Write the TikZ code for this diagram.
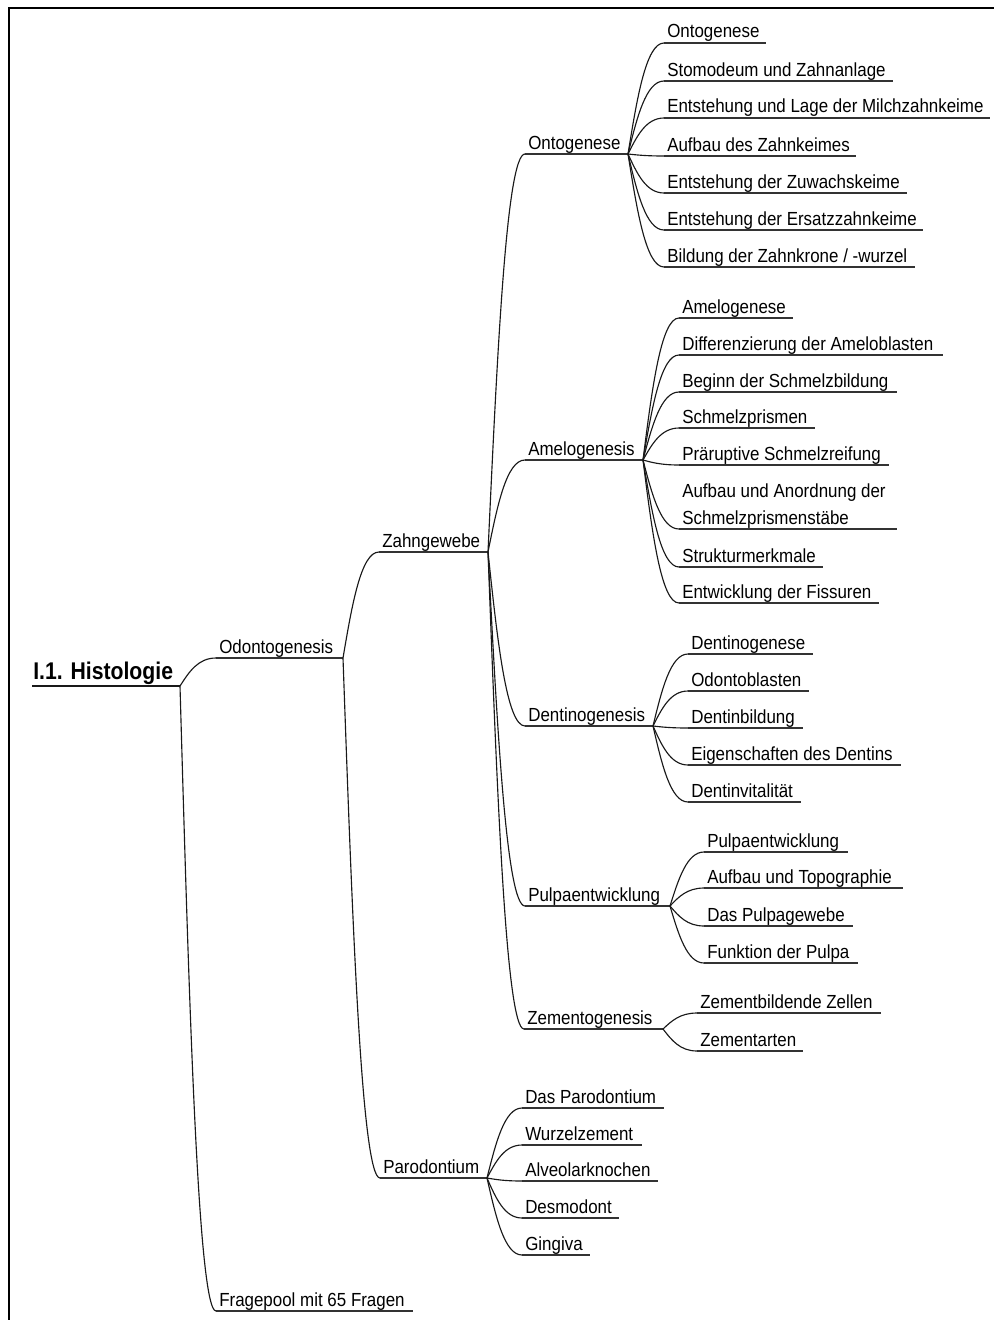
\documentclass[tikz,border=0pt]{standalone}
\usepackage{fontspec}
\setmainfont{Liberation Sans}
\usetikzlibrary{calc}

\tikzset{
  topic/.style={anchor=base west, inner sep=0pt, text=black,
    font=\fontsize{12.7}{18}\selectfont},
  roottopic/.style={anchor=base west, inner sep=0pt, text=black,
    font=\fontsize{15.9}{19}\selectfont\bfseries},
  uline/.style={line width=1.2pt, draw=black!80},
  conn/.style={line width=0.85pt, draw=black!90},
  frame/.style={line width=1.3pt, draw=black}
}

% \topic[style]{name}{text x}{underline end x}{underline y}{text}
\newcommand\topic[6][]{%
  \coordinate (#2-l) at ({#3-3},#5);
  \coordinate (#2-r) at (#4,#5);
  \node[topic,#1] (#2) at (#3,{#5-5}) {\scalebox{1}[1.12]{#6}};
  \draw[uline] (#2-l) -- (#2-r);
}

% curved connector from the end of one underline to the start of another
\newcommand\branch[2]{%
  \draw[conn] let \p1=(#1-r), \p2=(#2-l) in
    (\p1) .. controls ({\x1+0.25*(\x2-\x1)},{\y1+0.5*(\y2-\y1)})
             and ({\x1+0.5*(\x2-\x1)},\y2) .. (\p2);
}

\begin{document}
\begin{tikzpicture}[x=0.75pt, y=-0.75pt]
\useasboundingbox (0,0) rectangle (994,1320);
\fill[white] (0,0) rectangle (994,1320);

% page frame
\draw[frame] (9,1320) -- (9,8) -- (994,8);

% root
\coordinate (root-l) at (32,686);
\coordinate (root-r) at (180,686);
\node[roottopic] (root) at (33,679) {\scalebox{1}[1.14]{I.1. Histologie}};
\draw[line width=1.6pt, draw=black!90] (root-l) -- (root-r);

% first level
\topic{odo}{219}{343}{658}{Odontogenesis}
\topic{frage}{219}{413}{1311}{Fragepool mit 65 Fragen}

% second level
\topic{zahn}{382}{488}{552}{Zahngewebe}
\topic{paro}{383}{487}{1178}{Parodontium}

% third level
\topic{onto}{528}{628}{154}{Ontogenese}
\topic{amelo}{528}{643}{460}{Amelogenesis}
\topic{dentino}{528}{653}{726}{Dentinogenesis}
\topic{pulpa}{528}{670}{906}{Pulpaentwicklung}
\topic{zement}{527}{663}{1029}{Zementogenesis}

% Ontogenese
\topic{o1}{667}{766}{43}{Ontogenese}
\topic{o2}{667}{893}{81}{Stomodeum und Zahnanlage}
\topic{o3}{667}{990}{118}{Entstehung und Lage der Milchzahnkeime}
\topic{o4}{667}{856}{156}{Aufbau des Zahnkeimes}
\topic{o5}{667}{907}{193}{Entstehung der Zuwachskeime}
\topic{o6}{667}{923}{230}{Entstehung der Ersatzzahnkeime}
\topic{o7}{667}{915}{267}{Bildung der Zahnkrone / -wurzel}

% Amelogenesis
\topic{a1}{682}{793}{318}{Amelogenese}
\topic{a2}{682}{943}{355}{Differenzierung der Ameloblasten}
\topic{a3}{682}{897}{392}{Beginn der Schmelzbildung}
\topic{a4}{682}{815}{428}{Schmelzprismen}
\topic{a5}{682}{889}{465}{Präruptive Schmelzreifung}
\topic{a6}{682}{897}{529}{\begin{tabular}[b]{@{}l@{}}Aufbau und Anordnung der\\Schmelzprismenstäbe\end{tabular}}
\topic{a7}{682}{823}{567}{Strukturmerkmale}
\topic{a8}{682}{879}{603}{Entwicklung der Fissuren}

% Dentinogenesis
\topic{d1}{691}{813}{654}{Dentinogenese}
\topic{d2}{691}{809}{691}{Odontoblasten}
\topic{d3}{691}{803}{728}{Dentinbildung}
\topic{d4}{691}{901}{765}{Eigenschaften des Dentins}
\topic{d5}{691}{801}{802}{Dentinvitalität}

% Pulpaentwicklung
\topic{p1}{707}{848}{852}{Pulpaentwicklung}
\topic{p2}{707}{903}{888}{Aufbau und Topographie}
\topic{p3}{707}{853}{926}{Das Pulpagewebe}
\topic{p4}{707}{858}{963}{Funktion der Pulpa}

% Zementogenesis
\topic{z1}{700}{881}{1013}{Zementbildende Zellen}
\topic{z2}{700}{803}{1051}{Zementarten}

% Parodontium
\topic{r1}{525}{664}{1108}{Das Parodontium}
\topic{r2}{525}{642}{1145}{Wurzelzement}
\topic{r3}{525}{658}{1181}{Alveolarknochen}
\topic{r4}{525}{619}{1218}{Desmodont}
\topic{r5}{525}{590}{1255}{Gingiva}

% connectors
\branch{root}{odo}
\branch{root}{frage}
\branch{odo}{zahn}
\branch{odo}{paro}
\foreach \c in {onto,amelo,dentino,pulpa,zement} {\branch{zahn}{\c}}
\foreach \c in {o1,o2,o3,o4,o5,o6,o7} {\branch{onto}{\c}}
\foreach \c in {a1,a2,a3,a4,a5,a6,a7,a8} {\branch{amelo}{\c}}
\foreach \c in {d1,d2,d3,d4,d5} {\branch{dentino}{\c}}
\foreach \c in {p1,p2,p3,p4} {\branch{pulpa}{\c}}
\foreach \c in {z1,z2} {\branch{zement}{\c}}
\foreach \c in {r1,r2,r3,r4,r5} {\branch{paro}{\c}}
\end{tikzpicture}
\end{document}
